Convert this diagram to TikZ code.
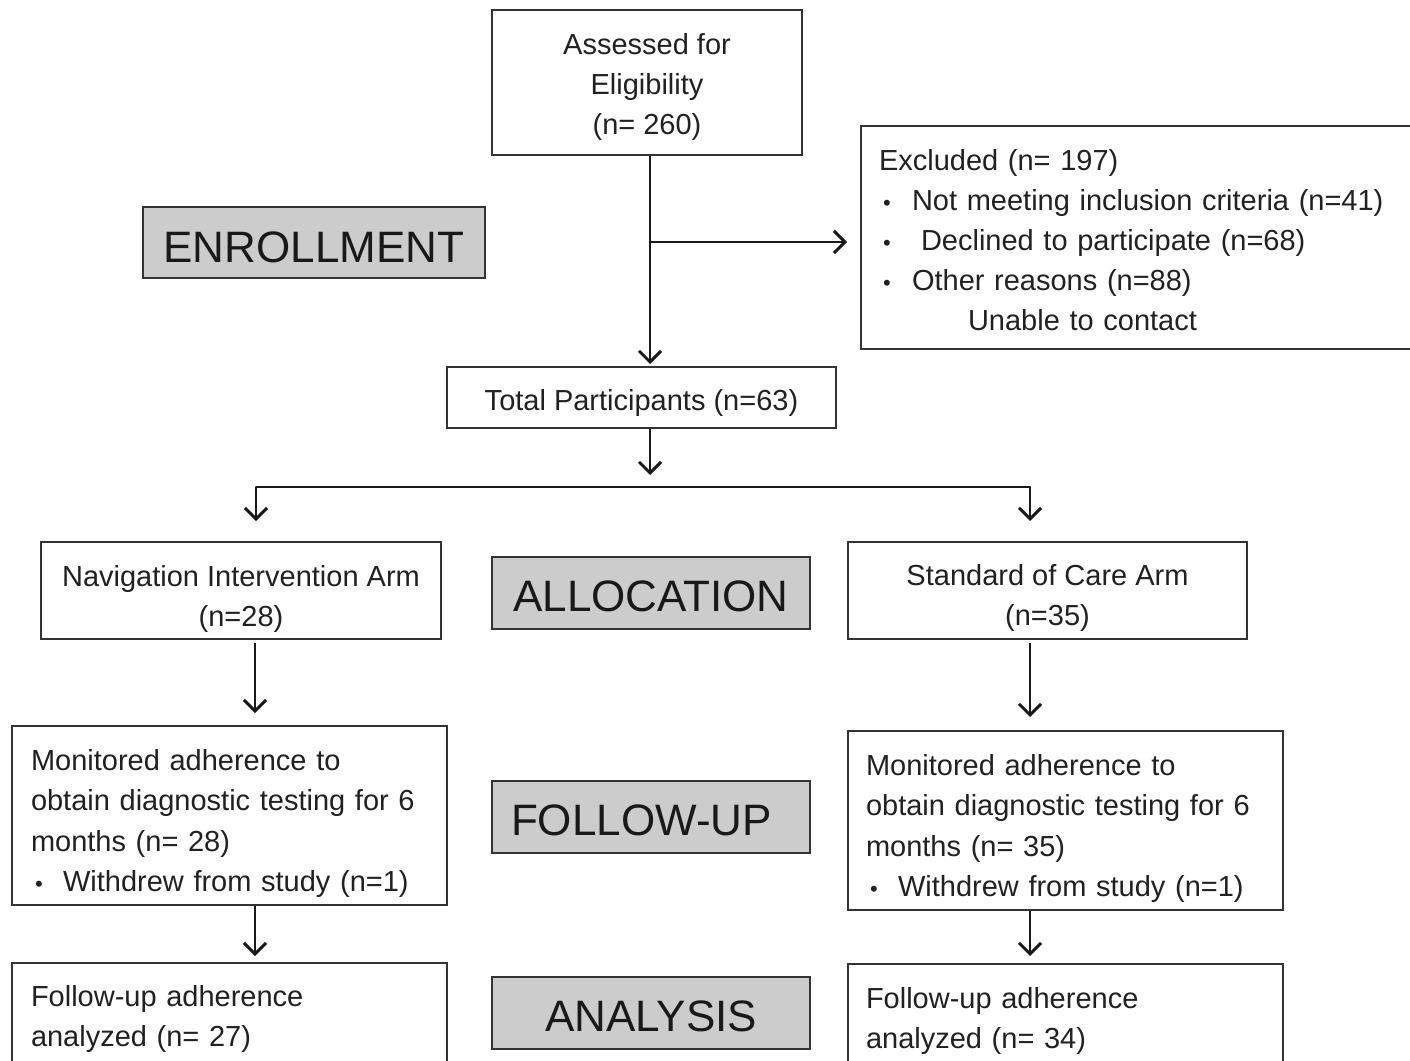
\documentclass[tikz,border=0pt]{standalone}
\usepackage{fontspec}
\setmainfont{Liberation Sans}
\usetikzlibrary{arrows.meta,calc}
\definecolor{boxc}{gray}{0.2}
\definecolor{txt}{gray}{0.13}
\definecolor{lblfill}{gray}{0.8}
\newcommand\tstr[1]{\rule{0pt}{#1pt}}
\newcommand\bulmark{{\fontsize{22}{22}\selectfont •}}
\begin{document}
\begin{tikzpicture}[x=1pt,y=-1pt,
  box/.style={draw=boxc, line width=2pt, fill=white, text=txt, inner sep=0pt,
    font=\fontsize{29}{40}\selectfont},
  cbox/.style={box, align=center},
  lbox/.style={box, align=left, inner xsep=#1pt},
  lblbox/.style={draw=boxc, line width=2pt, fill=lblfill, text=black!90, inner sep=0pt,
    minimum width=318pt, minimum height=72pt, font=\fontsize{44}{50}\selectfont},
  conn/.style={line width=2pt, draw=black!90},
  arr/.style={conn, -{Straight Barb[length=11pt,width=22pt,line width=3pt]}}
]
\useasboundingbox (0,0) rectangle (1410,1060);
\clip (0,0) rectangle (1410,1060);

% Enrollment
\node[cbox, minimum width=310pt, minimum height=145pt] (A) at (647,82.5)
  {\tstr{31}Assessed for\\Eligibility\\(n= 260)};
\node[lbox=18, text width=528pt, minimum height=223pt] (Ex) at (1143,237.5)
  {\tstr{27}Excluded (n= 197)\\
   \makebox[33pt][l]{\hspace{4pt}\bulmark}Not meeting inclusion criteria (n=41)\\
   \makebox[42pt][l]{\hspace{4pt}\bulmark}Declined to participate (n=68)\\
   \makebox[33pt][l]{\hspace{4pt}\bulmark}Other reasons (n=88)\\
   \hspace*{89pt}Unable to contact};
\node[lblbox, minimum width=342pt, minimum height=71pt] (EN) at (314,242.5) {\tstr{39.5}ENROLLMENT};
\node[cbox, minimum width=389pt, minimum height=61pt] (T) at (641.5,397.5)
  {\tstr{33}Total Participants (n=63)};

% Allocation
\node[cbox, minimum width=400pt, minimum height=97pt] (Nav) at (241,590.5)
  {\tstr{37}Navigation Intervention Arm\\(n=28)};
\node[lblbox] (AL) at (651,593) {\tstr{37.5}ALLOCATION};
\node[cbox, minimum width=399pt, minimum height=97pt] (SC) at (1047.5,590.5)
  {\tstr{36}Standard of Care Arm\\(n=35)};

% Follow-up
\node[lbox=19, text width=397pt, minimum height=179pt,
  font=\fontsize{29}{40.5}\selectfont] (ML) at (229.5,815.5)
  {\tstr{37}Monitored adherence to\\obtain diagnostic testing for 6\\months (n= 28)\\
   \makebox[32pt][l]{\hspace{4pt}\bulmark}Withdrew from study (n=1)};
\node[lblbox, align=left, text width=280pt, inner xsep=19pt] (FU) at (651,817) {\tstr{37.5}FOLLOW-UP};
\node[lbox=18, text width=399pt, minimum height=179pt,
  font=\fontsize{29}{40.5}\selectfont] (MR) at (1065.5,820.5)
  {\tstr{37}Monitored adherence to\\obtain diagnostic testing for 6\\months (n= 35)\\
   \makebox[32pt][l]{\hspace{4pt}\bulmark}Withdrew from study (n=1)};

% Analysis
\node[lbox=19, text width=397pt, minimum height=106pt] (AnL) at (229.5,1016)
  {\tstr{27}Follow-up adherence\\analyzed (n= 27)};
\node[lblbox] (AN) at (651,1013) {\tstr{37.5}ANALYSIS};
\node[lbox=18, text width=399pt, minimum height=106pt] (AnR) at (1065.5,1017)
  {\tstr{29}Follow-up adherence\\analyzed (n= 34)};

% Connectors
\coordinate (br) at (650,242);
\coordinate (sp) at (650,475);
\coordinate (bl) at (256,487);
\coordinate (bR) at (1030,487);
\coordinate (cL) at (255,0);
\coordinate (cR) at (1030,0);

\draw[arr, shorten >=2pt] ([xshift=3pt]A.south) -- ([xshift=8.5pt]T.north);
\draw[arr, shorten >=13pt] (br) -- (br -| Ex.west);
\draw[arr] ([xshift=8.5pt]T.south) -- (sp);
\draw[conn, line cap=round] (bl) -- (bR);
\draw[arr, shorten >=20pt] (bl) -- (bl |- Nav.north);
\draw[arr, shorten >=20pt] (bR) -- (bR |- SC.north);
\draw[arr, shorten <=3pt, shorten >=12pt] (cL |- Nav.south) -- (cL |- ML.north);
\draw[arr, shorten <=3pt, shorten >=13pt] (cR |- SC.south) -- (cR |- MR.north);
\draw[arr, shorten >=6pt] (cL |- ML.south) -- (cL |- AnL.north);
\draw[arr, shorten >=7pt] (cR |- MR.south) -- (cR |- AnR.north);
\end{tikzpicture}
\end{document}
